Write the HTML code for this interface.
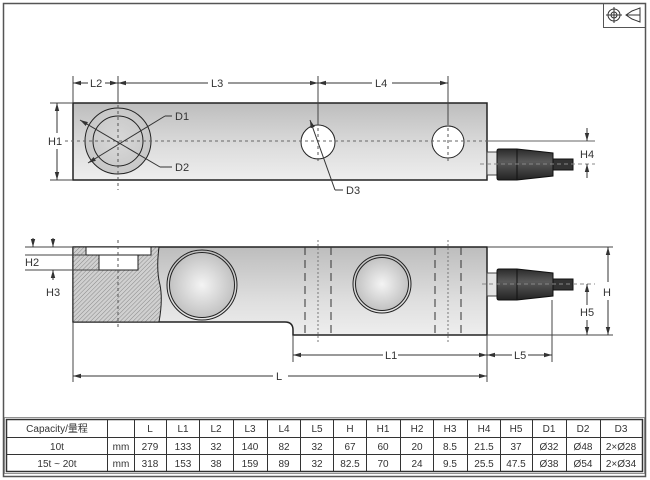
<!DOCTYPE html>
<html><head><meta charset="utf-8"><style>
html,body{margin:0;padding:0;background:#fff}
svg{display:block}
text{font-family:"Liberation Sans","Noto Sans CJK SC",sans-serif;fill:#333}
</style></head><body>
<svg width="650" height="480" viewBox="0 0 650 480" xmlns="http://www.w3.org/2000/svg">
<defs>
<linearGradient id="bar" x1="0" y1="0" x2="0" y2="1">
<stop offset="0" stop-color="#bdbdbd"/><stop offset="0.6" stop-color="#dedede"/><stop offset="1" stop-color="#eeeeee"/></linearGradient>
<linearGradient id="boot" x1="0" y1="0" x2="0" y2="1">
<stop offset="0" stop-color="#2a2a2a"/><stop offset="0.4" stop-color="#5a5a5a"/><stop offset="1" stop-color="#222"/></linearGradient>
<radialGradient id="disc" cx="0.5" cy="0.5" r="0.6">
<stop offset="0" stop-color="#f4f4f4"/><stop offset="1" stop-color="#b8b8b8"/></radialGradient>
<radialGradient id="bigc" cx="0.5" cy="0.5" r="0.6">
<stop offset="0" stop-color="#d8d8d8"/><stop offset="1" stop-color="#c4c4c4"/></radialGradient>
<pattern id="hatch" width="3" height="3" patternUnits="userSpaceOnUse" patternTransform="rotate(45)">
<rect width="3" height="3" fill="#d0d0d0"/><line x1="0" y1="0" x2="0" y2="3" stroke="#888" stroke-width="1"/></pattern>
<marker id="a" markerWidth="8" markerHeight="6" refX="8" refY="3" orient="auto-start-reverse" markerUnits="userSpaceOnUse">
<path d="M0,0.8 L8,3 L0,5.2z" fill="#333"/></marker>
</defs>

<rect x="3.5" y="3.5" width="642" height="473" fill="none" stroke="#555" stroke-width="1.5"/>
<rect x="603.5" y="3.5" width="42" height="24" fill="none" stroke="#555"/>
<circle cx="614" cy="15" r="6" fill="none" stroke="#333"/><circle cx="614" cy="15" r="3" fill="none" stroke="#333"/>
<line x1="606" y1="15" x2="622" y2="15" stroke="#333"/><line x1="614" y1="7" x2="614" y2="23" stroke="#333"/>
<path d="M626,15 L632,11 L640,8 L640,22 L632,19 Z M626,15 L640,15" fill="none" stroke="#333"/>

<!-- TOP VIEW -->
<rect x="73" y="103" width="414" height="77" fill="url(#bar)" stroke="#222" stroke-width="1.5"/>
<circle cx="118" cy="141" r="33" fill="url(#bigc)" stroke="#222"/>
<circle cx="118" cy="141" r="25" fill="none" stroke="#222"/>
<circle cx="318" cy="142" r="17" fill="#fff" stroke="#222"/>
<circle cx="448" cy="142" r="16" fill="#fff" stroke="#222"/>
<line x1="65" y1="141" x2="487" y2="141" stroke="#666" stroke-dasharray="3,3"/>
<line x1="487" y1="141" x2="595" y2="141" stroke="#666"/>
<line x1="118" y1="105" x2="118" y2="190" stroke="#555" stroke-dasharray="3,3"/>
<line x1="318" y1="122" x2="318" y2="162" stroke="#555" stroke-dasharray="3,3"/>
<line x1="448" y1="122" x2="448" y2="162" stroke="#555" stroke-dasharray="3,3"/>
<line x1="88" y1="163" x2="165" y2="116" stroke="#333" marker-start="url(#a)"/>
<polyline points="165,116 172,116" fill="none" stroke="#333"/>
<line x1="80" y1="120" x2="160" y2="167" stroke="#333" marker-start="url(#a)"/>
<polyline points="160,167 172,167" fill="none" stroke="#333"/>
<text x="175" y="120" font-size="11">D1</text>
<text x="175" y="171" font-size="11">D2</text>
<line x1="310" y1="120" x2="335" y2="190" stroke="#333" marker-start="url(#a)"/>
<line x1="335" y1="190" x2="343" y2="190" stroke="#333"/>
<text x="346" y="194" font-size="11">D3</text>
<rect x="487" y="152" width="10" height="23" fill="#e4e4e4" stroke="#444"/>
<path d="M499,149 L517,149 L553,153 L553,176 L517,180 L499,180 Q497,180 497,178 L497,151 Q497,149 499,149Z" fill="url(#boot)" stroke="#111"/>
<line x1="517" y1="149" x2="517" y2="180" stroke="#111"/>
<rect x="553" y="159" width="20" height="11" fill="#333" stroke="#111"/>
<line x1="480" y1="164" x2="595" y2="164" stroke="#888" stroke-dasharray="4,3"/>
<line x1="587" y1="128" x2="587" y2="141" stroke="#333" marker-end="url(#a)"/>
<line x1="587" y1="178" x2="587" y2="164" stroke="#333" marker-end="url(#a)"/>
<text x="580" y="158" font-size="11">H4</text>
<g stroke="#444">
<line x1="73" y1="76" x2="73" y2="103"/><line x1="118" y1="76" x2="118" y2="103"/>
<line x1="318" y1="76" x2="318" y2="125"/><line x1="448" y1="76" x2="448" y2="125"/>
<line x1="50" y1="103" x2="73" y2="103"/><line x1="50" y1="180" x2="73" y2="180"/>
</g>
<g stroke="#333" fill="none">
<line x1="88" y1="83" x2="73" y2="83" marker-end="url(#a)"/><line x1="105" y1="83" x2="118" y2="83" marker-end="url(#a)"/>
<line x1="208" y1="83" x2="118" y2="83" marker-end="url(#a)"/><line x1="228" y1="83" x2="318" y2="83" marker-end="url(#a)"/>
<line x1="372" y1="83" x2="318" y2="83" marker-end="url(#a)"/><line x1="392" y1="83" x2="448" y2="83" marker-end="url(#a)"/>
<line x1="57" y1="133" x2="57" y2="103" marker-end="url(#a)"/><line x1="57" y1="149" x2="57" y2="180" marker-end="url(#a)"/>
</g>
<rect x="47" y="134" width="17" height="13" fill="#fff"/>
<text x="48" y="145" font-size="11">H1</text>
<text x="90" y="87" font-size="11">L2</text>
<text x="211" y="87" font-size="11">L3</text>
<text x="375" y="87" font-size="11">L4</text>

<!-- SIDE VIEW -->
<path d="M73,247 L487,247 L487,335 L293,335 L293,330 Q293,322 285,322 L73,322 Z" fill="url(#bar)" stroke="#222" stroke-width="1.5"/>
<path d="M73,247 L159,247 Q156,270 160,285 Q163,300 159,322 L73,322 Z" fill="url(#hatch)" stroke="#222"/>
<rect x="86" y="247" width="65" height="8" fill="#fff" stroke="#222"/>
<rect x="99" y="255" width="39" height="15" fill="#fff" stroke="#222"/>
<line x1="118" y1="240" x2="118" y2="330" stroke="#555" stroke-dasharray="3,3"/>
<circle cx="202" cy="285" r="35" fill="none" stroke="#222"/>
<circle cx="202" cy="285" r="32.5" fill="url(#disc)" stroke="#222"/>
<circle cx="382" cy="284" r="29" fill="none" stroke="#222"/>
<circle cx="382" cy="284" r="26.5" fill="url(#disc)" stroke="#222"/>
<g stroke="#333">
<line x1="305" y1="247" x2="305" y2="335" stroke-dasharray="8,5"/>
<line x1="331" y1="247" x2="331" y2="335" stroke-dasharray="8,5"/>
<line x1="435" y1="247" x2="435" y2="335" stroke-dasharray="8,5"/>
<line x1="461" y1="247" x2="461" y2="335" stroke-dasharray="8,5"/>
</g>
<line x1="318" y1="240" x2="318" y2="342" stroke="#777" stroke-dasharray="2,2"/>
<line x1="448" y1="240" x2="448" y2="342" stroke="#777" stroke-dasharray="2,2"/>
<rect x="487" y="273" width="10" height="23" fill="#e4e4e4" stroke="#444"/>
<path d="M499,269 L517,269 L553,273 L553,296 L517,300 L499,300 Q497,300 497,298 L497,271 Q497,269 499,269Z" fill="url(#boot)" stroke="#111"/>
<line x1="517" y1="269" x2="517" y2="300" stroke="#111"/>
<rect x="553" y="279" width="20" height="11" fill="#333" stroke="#111"/>
<line x1="482" y1="284" x2="595" y2="284" stroke="#888" stroke-dasharray="4,3"/>
<g stroke="#444">
<line x1="487" y1="247" x2="613" y2="247"/><line x1="487" y1="335" x2="613" y2="335"/>
<line x1="25" y1="247" x2="73" y2="247"/><line x1="25" y1="255" x2="86" y2="255"/><line x1="25" y1="270" x2="99" y2="270"/>
<line x1="73" y1="322" x2="73" y2="382"/><line x1="487" y1="335" x2="487" y2="382"/>
<line x1="293" y1="335" x2="293" y2="362"/><line x1="552" y1="300" x2="552" y2="362"/>
</g>
<g stroke="#333" fill="none">
<line x1="608" y1="282" x2="608" y2="247" marker-end="url(#a)"/><line x1="608" y1="300" x2="608" y2="335" marker-end="url(#a)"/>
<line x1="587" y1="305" x2="587" y2="284" marker-end="url(#a)"/><line x1="587" y1="320" x2="587" y2="335" marker-end="url(#a)"/>
<line x1="33" y1="238" x2="33" y2="247" marker-end="url(#a)"/>
<line x1="53" y1="238" x2="53" y2="247" marker-end="url(#a)"/><line x1="53" y1="280" x2="53" y2="270" marker-end="url(#a)"/>
<line x1="383" y1="355" x2="293" y2="355" marker-end="url(#a)"/><line x1="398" y1="355" x2="487" y2="355" marker-end="url(#a)"/>
<line x1="512" y1="355" x2="487" y2="355" marker-end="url(#a)"/><line x1="528" y1="355" x2="552" y2="355" marker-end="url(#a)"/>
<line x1="273" y1="376" x2="73" y2="376" marker-end="url(#a)"/><line x1="288" y1="376" x2="487" y2="376" marker-end="url(#a)"/>
</g>
<text x="603" y="296" font-size="11">H</text>
<text x="580" y="316" font-size="11">H5</text>
<text x="25" y="266" font-size="11">H2</text>
<text x="46" y="296" font-size="11">H3</text>
<text x="385" y="359" font-size="11">L1</text>
<text x="514" y="359" font-size="11">L5</text>
<text x="276" y="380" font-size="11">L</text>

<!-- TABLE -->
<g stroke="#333" fill="none">
<rect x="6.5" y="419.5" width="636" height="52" stroke-width="1.5"/>
<rect x="4.5" y="417.5" width="640" height="56" stroke="#777" stroke-width="0.8"/>
<line x1="6" y1="437.5" x2="643" y2="437.5"/><line x1="6" y1="454.5" x2="643" y2="454.5"/>
<line x1="107.5" y1="419" x2="107.5" y2="471"/><line x1="134.5" y1="419" x2="134.5" y2="471"/>
<line x1="166.5" y1="419" x2="166.5" y2="471"/><line x1="199.5" y1="419" x2="199.5" y2="471"/>
<line x1="233.5" y1="419" x2="233.5" y2="471"/><line x1="267.5" y1="419" x2="267.5" y2="471"/>
<line x1="300.5" y1="419" x2="300.5" y2="471"/><line x1="333.5" y1="419" x2="333.5" y2="471"/>
<line x1="366.5" y1="419" x2="366.5" y2="471"/><line x1="400.5" y1="419" x2="400.5" y2="471"/>
<line x1="433.5" y1="419" x2="433.5" y2="471"/><line x1="467.5" y1="419" x2="467.5" y2="471"/>
<line x1="500.5" y1="419" x2="500.5" y2="471"/><line x1="532.5" y1="419" x2="532.5" y2="471"/>
<line x1="566.5" y1="419" x2="566.5" y2="471"/><line x1="600.5" y1="419" x2="600.5" y2="471"/>
</g>
<g font-size="10" text-anchor="middle">
<text x="57" y="432">Capacity/量程</text>
<text x="150" y="432">L</text><text x="183" y="432">L1</text><text x="216" y="432">L2</text><text x="250" y="432">L3</text>
<text x="284" y="432">L4</text><text x="317" y="432">L5</text><text x="350" y="432">H</text><text x="383" y="432">H1</text>
<text x="417" y="432">H2</text><text x="450" y="432">H3</text><text x="484" y="432">H4</text><text x="516" y="432">H5</text>
<text x="549" y="432">D1</text><text x="583" y="432">D2</text><text x="621" y="432">D3</text>
<text x="57" y="450">10t</text><text x="121" y="450">mm</text>
<text x="150" y="450">279</text><text x="183" y="450">133</text><text x="216" y="450">32</text><text x="250" y="450">140</text>
<text x="284" y="450">82</text><text x="317" y="450">32</text><text x="350" y="450">67</text><text x="383" y="450">60</text>
<text x="417" y="450">20</text><text x="450" y="450">8.5</text><text x="484" y="450">21.5</text><text x="516" y="450">37</text>
<text x="549" y="450">Ø32</text><text x="583" y="450">Ø48</text><text x="621" y="450">2×Ø28</text>
<text x="57" y="467">15t ~ 20t</text><text x="121" y="467">mm</text>
<text x="150" y="467">318</text><text x="183" y="467">153</text><text x="216" y="467">38</text><text x="250" y="467">159</text>
<text x="284" y="467">89</text><text x="317" y="467">32</text><text x="350" y="467">82.5</text><text x="383" y="467">70</text>
<text x="417" y="467">24</text><text x="450" y="467">9.5</text><text x="484" y="467">25.5</text><text x="516" y="467">47.5</text>
<text x="549" y="467">Ø38</text><text x="583" y="467">Ø54</text><text x="621" y="467">2×Ø34</text>
</g>
</svg>
</body></html>
